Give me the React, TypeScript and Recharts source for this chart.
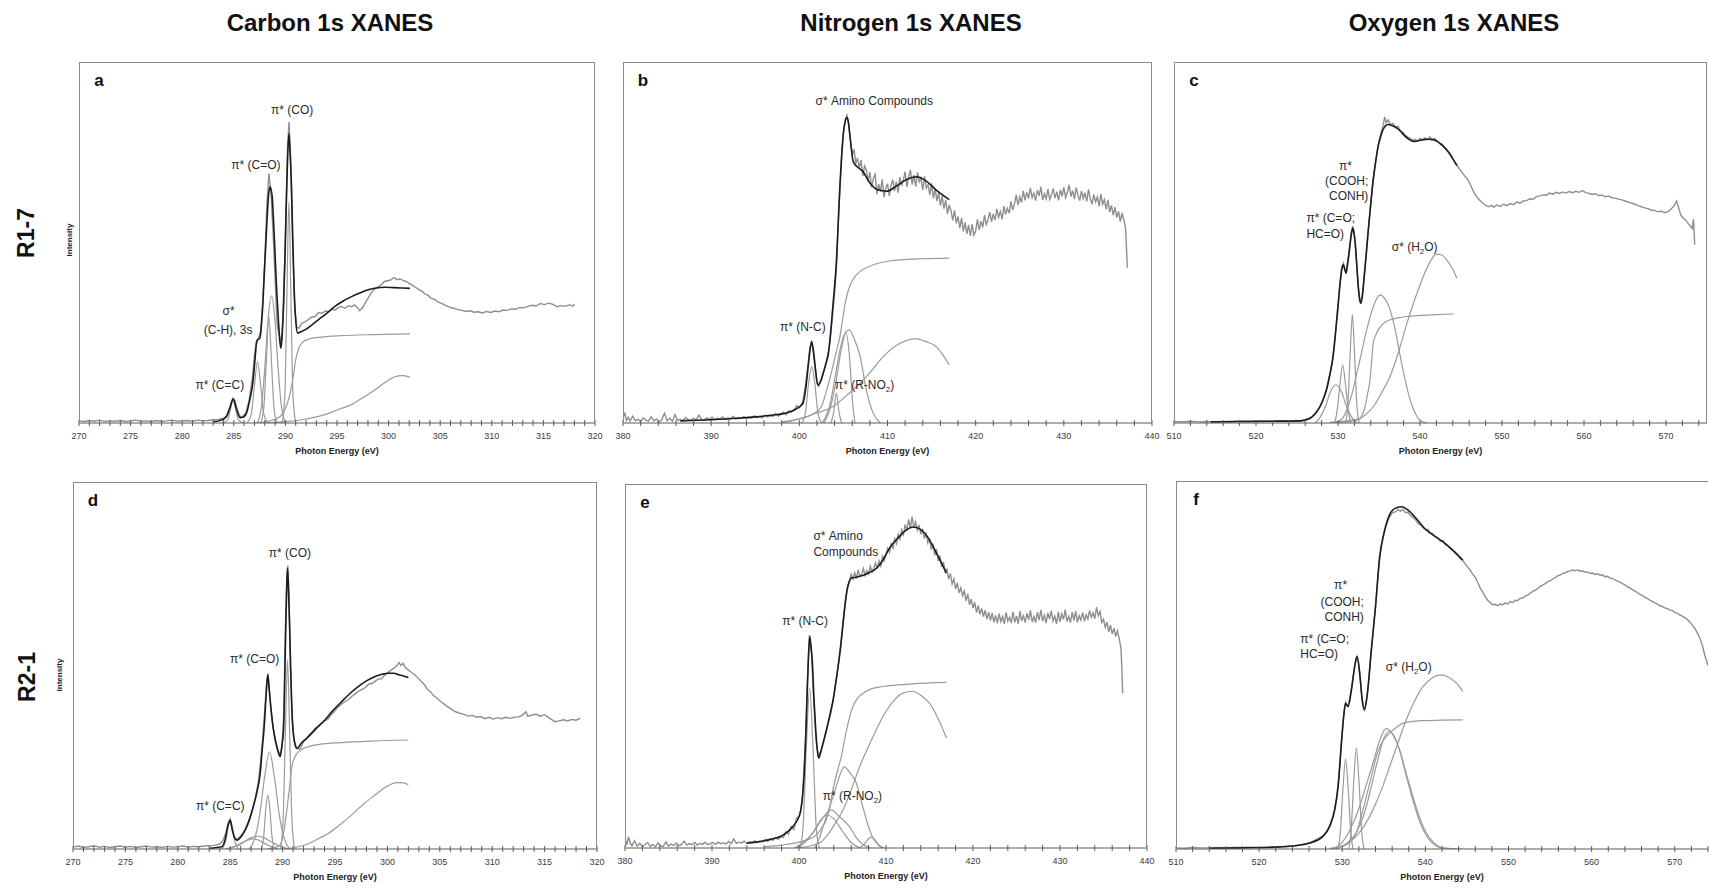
import React from 'react';
import { LineChart, Line, XAxis, YAxis, ReferenceDot } from 'recharts';

type Pt = [number, number];
type Note = { x: number; y: number; text: string; anchor?: 'start' | 'middle' | 'end' };

// ---- tick positions and labels ----
const carbonTicks = [270, 271, 272, 273, 274, 275, 276, 277, 278, 279, 280, 281, 282, 283, 284, 285, 286, 287, 288, 289, 290, 291, 292, 293, 294, 295, 296, 297, 298, 299, 300, 301, 302, 303, 304, 305, 306, 307, 308, 309, 310, 311, 312, 313, 314, 315, 316, 317, 318, 319, 320];
const carbonLabels = [270, 275, 280, 285, 290, 295, 300, 305, 310, 315, 320];
const nitrogenTicks = [380, 382, 384, 386, 388, 390, 392, 394, 396, 398, 400, 402, 404, 406, 408, 410, 412, 414, 416, 418, 420, 422, 424, 426, 428, 430, 432, 434, 436, 438, 440];
const nitrogenLabels = [380, 390, 400, 410, 420, 430, 440];
const oxygenTicks = [510, 512, 514, 516, 518, 520, 522, 524, 526, 528, 530, 532, 534, 536, 538, 540, 542, 544, 546, 548, 550, 552, 554, 556, 558, 560, 562, 564, 566, 568, 570, 572, 574];
const oxygenLabels = [510, 520, 530, 540, 550, 560, 570];

// ---- a: Carbon, R1-7 ----
const aExp: Pt[] = [[270,0.6],[270.5,0.4],[271,0.7],[271.5,0.5],[272,0.8],[272.5,0.4],[273,0.6],[273.5,0.5],[274,0.7],[274.5,0.4],[275,0.6],[275.5,0.8],[276,0.5],[276.5,0.6],[277,0.4],[277.5,0.7],[278,0.5],[278.5,0.6],[279,0.8],[279.5,0.5],[280,0.6],[280.5,0.7],[281,0.5],[281.5,0.8],[282,0.6],[282.5,0.7],[283,0.9],[283.5,1.0],[284,1.3],[284.3,2.0],[284.6,4.2],[284.9,6.9],[285.1,6.2],[285.3,3.9],[285.6,1.8],[285.9,1.9],[286.2,3.0],[286.5,6.5],[286.8,12.5],[287.0,18.5],[287.2,22.8],[287.4,23.4],[287.6,25.5],[287.8,33],[288.0,45],[288.2,60],[288.4,69.1],[288.6,64],[288.8,53],[289.0,40],[289.2,27],[289.4,24.6],[289.6,22.0],[289.8,30],[290.0,52],[290.2,76],[290.35,83.4],[290.5,74],[290.7,50],[290.9,32],[291.1,26.5],[291.3,26.2],[291.6,27.7],[291.9,28.0],[292.2,28.6],[292.5,29.3],[292.9,29.5],[293.2,30.6],[293.5,30.4],[293.9,31.0],[294.2,30.8],[294.5,31.5],[294.8,31.3],[295.1,31.9],[295.4,32.3],[295.8,31.8],[296.1,32.5],[296.4,32.2],[296.7,32.7],[297.0,31.9],[297.2,31.1],[297.5,32.0],[297.8,33.6],[298.1,35.0],[298.4,36.4],[298.7,37.2],[299.0,37.8],[299.3,38.3],[299.6,39.2],[299.9,39.4],[300.2,39.6],[300.5,40.3],[300.8,39.7],[301.1,39.9],[301.4,39.5],[301.7,39.2],[302.0,38.7],[302.3,38.2],[302.6,37.6],[302.9,37.0],[303.2,36.6],[303.5,35.8],[303.8,35.4],[304.1,34.6],[304.5,34.2],[304.8,33.5],[305.1,33.2],[305.5,32.6],[305.9,32.1],[306.3,31.8],[306.7,31.4],[307.1,31.2],[307.5,30.9],[307.9,31.1],[308.3,30.7],[308.7,30.8],[309.1,30.5],[309.5,30.9],[309.9,30.6],[310.3,31.0],[310.7,30.8],[311.1,31.3],[311.5,31.2],[311.9,31.6],[312.3,31.5],[312.7,32.0],[313.1,31.9],[313.5,32.3],[313.9,32.6],[314.3,32.4],[314.7,33.1],[315.1,32.8],[315.5,33.2],[315.9,32.9],[316.3,32.2],[316.7,32.5],[317.1,32.3],[317.5,32.7],[317.9,32.4],[318.0,33.0]];
const aFit: Pt[] = [[283,0.3],[283.8,0.8],[284.3,1.8],[284.6,4.0],[284.94,6.6],[285.25,4.0],[285.6,1.5],[285.9,1.6],[286.23,2.8],[286.55,6.5],[286.88,12],[287.05,17.5],[287.2,22.1],[287.35,23.2],[287.53,23.5],[287.7,28],[287.85,35],[288.0,44],[288.17,53.5],[288.35,62.5],[288.5,65.4],[288.62,64.5],[288.72,62.7],[288.85,56],[288.98,48],[289.15,37],[289.3,29.5],[289.45,23],[289.56,20.7],[289.68,24],[289.82,33.2],[289.95,45],[290.08,59.9],[290.2,72],[290.34,80.2],[290.47,74],[290.6,64.5],[290.72,50],[290.85,36.9],[291.0,28.5],[291.18,24.9],[291.5,25.3],[291.89,25.8],[292.5,27.0],[293.18,28.6],[294.0,30.4],[294.8,32.3],[295.6,33.8],[296.41,35],[297.2,36.0],[298.03,36.9],[298.8,37.4],[299.64,37.6],[300.5,37.5],[301.3,37.4],[302.07,37.3]];
const aCC: Pt[] = [[283.8,0],[284.4,0.8],[284.65,3.5],[284.94,6.3],[285.2,3.5],[285.45,0.8],[286,0]];
const aCH: Pt[] = [[286.3,0],[286.7,2.5],[287.0,10.5],[287.3,17],[287.6,10.5],[287.9,2.5],[288.3,0]];
const aCO1: Pt[] = [[287.6,0],[287.9,4],[288.15,17],[288.4,29.5],[288.65,17],[288.9,4],[289.2,0]];
const aCO2: Pt[] = [[287.3,0],[287.7,5],[288.0,15],[288.3,28],[288.66,35.2],[289.0,28],[289.3,15],[289.6,5],[290.0,0]];
const aCO3: Pt[] = [[289.7,0],[289.95,8],[290.15,36],[290.34,61.3],[290.53,36],[290.73,8],[291.0,0]];
const aStep: Pt[] = [[287,0],[288.5,0.6],[289.5,1.8],[289.95,3.7],[290.4,7.5],[290.76,12.9],[291.0,17.5],[291.24,20.3],[291.6,22.2],[292.2,23.2],[293.5,23.8],[295.4,24.2],[298.5,24.5],[302.07,24.7]];
const aSig: Pt[] = [[288,0],[290,0.4],[291.6,0.9],[293.8,2.3],[295.2,3.8],[296.4,5.1],[297.6,7.2],[298.7,9.2],[299.8,11.5],[300.6,12.8],[301.3,13.1],[302.07,12.7]];
const aNotes: Note[] = [
  { x: 290.66, y: 86.6, text: 'π* (CO)' },
  { x: 287.14, y: 71.4, text: 'π* (C=O)' },
  { x: 284.5, y: 30.9, text: 'σ*' },
  { x: 284.45, y: 25.8, text: '(C-H), 3s' },
  { x: 283.65, y: 10.6, text: 'π* (C=C)' },
];

// ---- b: Nitrogen, R1-7 ----
const bExp: Pt[] = [[380,1.2],[380.2,2.9],[380.4,0.7],[380.6,1.6],[380.8,0.5],[381.1,1.9],[381.4,0.6],[381.7,1.0],[382.0,0.4],[382.3,1.4],[382.6,0.8],[382.9,0.5],[383.2,1.7],[383.5,0.6],[383.8,1.1],[384.1,0.3],[384.4,0.9],[384.7,2.7],[385.0,0.6],[385.3,1.3],[385.6,0.5],[385.9,2.3],[386.2,0.7],[386.5,1.0],[386.8,0.6],[387.1,1.5],[387.4,0.9],[387.7,0.7],[388.0,1.3],[388.3,0.8],[388.6,2.2],[388.9,1.0],[389.2,0.8],[389.5,1.4],[389.8,1.0],[390.1,1.6],[390.4,0.9],[390.7,1.3],[391.0,1.1],[391.3,1.7],[391.6,1.0],[391.9,1.4],[392.2,1.2],[392.5,1.9],[392.8,1.1],[393.1,1.5],[393.4,1.3],[393.7,1.8],[394.0,1.2],[394.3,1.6],[394.6,1.4],[394.9,2.0],[395.2,1.5],[395.5,1.8],[395.8,1.4],[396.1,2.2],[396.4,1.7],[396.7,2.0],[397.0,1.8],[397.3,2.6],[397.6,1.9],[397.9,2.4],[398.2,3.0],[398.5,2.3],[398.8,3.4],[399.1,3.0],[399.4,3.6],[399.7,4.8],[400.0,4.2],[400.2,5.0],[400.4,6.0],[400.7,10.5],[401.0,16.5],[401.2,21],[401.4,22.8],[401.6,19.5],[401.8,14.8],[402.0,11.2],[402.2,10.2],[402.5,12.0],[402.8,14.6],[403.1,17.5],[403.4,21],[403.7,28],[404.0,36],[404.2,43],[404.4,54],[404.6,65],[404.8,74],[405.0,80.5],[405.2,84],[405.4,85.2],[405.6,83],[405.8,78.5],[406.0,74.2],[406.2,75.8],[406.4,71.9],[406.6,73.4],[406.8,70.6],[407.0,72.8],[407.2,68.4],[407.4,71.2],[407.6,70.1],[407.8,66.9],[408.0,69.5],[408.2,65.3],[408.4,67.8],[408.6,68.9],[408.8,63.4],[409.0,66.2],[409.2,64.1],[409.4,67.5],[409.6,62.6],[409.8,65.0],[410.0,66.3],[410.2,62.9],[410.4,65.8],[410.6,67.4],[410.8,64.2],[411.0,66.9],[411.2,63.8],[411.4,68.1],[411.6,65.7],[411.8,67.3],[412.0,69.6],[412.2,65.4],[412.4,68.2],[412.6,70.1],[412.8,66.0],[413.0,68.7],[413.2,65.5],[413.4,69.4],[413.6,66.8],[413.8,67.9],[414.0,64.6],[414.2,68.3],[414.4,65.1],[414.6,66.0],[414.8,63.2],[415.0,66.4],[415.2,62.3],[415.4,64.9],[415.6,61.5],[415.8,63.8],[416.0,60.2],[416.2,62.9],[416.4,59.4],[416.6,61.8],[416.8,57.9],[417.0,60.4],[417.2,58.8],[417.4,56.1],[417.6,58.9],[417.8,55.3],[418.0,57.2],[418.2,54.0],[418.4,56.8],[418.6,53.1],[418.8,55.6],[419.0,52.4],[419.2,54.9],[419.4,51.8],[419.6,55.1],[419.8,52.0],[420.0,53.2],[420.2,56.4],[420.4,53.5],[420.6,55.9],[420.8,54.2],[421.0,57.6],[421.2,55.0],[421.4,56.3],[421.6,58.4],[421.8,55.7],[422.0,57.9],[422.2,56.2],[422.4,59.3],[422.6,57.0],[422.8,58.6],[423.0,56.4],[423.2,60.1],[423.4,57.8],[423.6,59.5],[423.8,58.1],[424.0,61.4],[424.2,59.0],[424.4,60.7],[424.6,63.2],[424.8,60.4],[425.0,62.6],[425.2,61.1],[425.4,64.3],[425.6,61.7],[425.8,63.9],[426.0,62.2],[426.2,65.1],[426.4,62.4],[426.6,63.7],[426.8,61.6],[427.0,64.5],[427.2,62.9],[427.4,65.4],[427.6,61.8],[427.8,63.5],[428.0,62.1],[428.2,64.8],[428.4,61.9],[428.6,63.2],[428.8,65.0],[429.0,62.3],[429.2,64.1],[429.4,61.7],[429.6,64.6],[429.8,62.8],[430.0,65.3],[430.2,62.5],[430.4,63.9],[430.6,66.0],[430.8,62.7],[431.0,64.4],[431.2,62.0],[431.4,65.2],[431.6,63.1],[431.8,61.6],[432.0,64.3],[432.2,62.2],[432.4,63.8],[432.6,61.4],[432.8,64.7],[433.0,62.0],[433.2,60.8],[433.4,63.3],[433.6,61.2],[433.8,62.6],[434.0,60.1],[434.2,63.4],[434.4,60.6],[434.6,61.9],[434.8,59.2],[435.0,61.8],[435.2,58.4],[435.4,60.3],[435.6,57.6],[435.8,59.8],[436.0,56.9],[436.2,58.7],[436.4,55.8],[436.6,58.2],[436.8,56.3],[437.0,54.0],[437.1,49],[437.2,43]];
const bFit: Pt[] = [[386.5,0.6],[390,0.9],[393,1.3],[395,1.7],[397,2.2],[398.2,2.6],[399.7,4.0],[400.4,5.4],[400.75,10],[401.0,15.6],[401.2,20],[401.4,22.5],[401.6,20],[401.8,15.6],[402.1,10.5],[402.4,11.5],[402.7,13.7],[403.0,16.3],[403.3,19.3],[403.55,25],[403.8,32.2],[404.0,38],[404.2,44.3],[404.4,55],[404.6,65.6],[404.8,74],[405.0,80.4],[405.2,83.5],[405.4,84.6],[405.55,83.5],[405.7,80.4],[405.9,76],[406.1,72.5],[406.5,71.1],[407.2,69.7],[408.0,66.5],[408.9,64.6],[409.9,64.2],[411.0,65.6],[412.1,67.4],[413.3,68.2],[414.4,67.0],[415.5,64.6],[417.0,61.9]];
const bNC: Pt[] = [[400.3,0],[400.7,3],[401.05,11],[401.4,15.6],[401.75,11],[402.1,3],[402.5,0]];
const bStep: Pt[] = [[398,0.3],[400.1,1.2],[401.5,2.4],[402.5,4.5],[403.1,9.1],[403.8,15.6],[404.2,19.8],[404.6,23.9],[404.9,28.5],[405.2,33.2],[405.7,37.8],[406.2,40.2],[406.9,42],[407.8,43.2],[408.75,44.1],[410,44.8],[411.4,45.2],[414,45.5],[417,45.7]];
const bSig1: Pt[] = [[402.6,0],[403.5,5.4],[404.0,11.9],[404.6,20.2],[405.2,25],[405.65,25.8],[406.2,23.5],[406.9,18.4],[407.6,9.1],[408.4,2.6],[409.2,0]];
const bNO2: Pt[] = [[403.6,0],[403.9,3],[404.2,8.3],[404.5,3],[404.8,0]];
const bSig2: Pt[] = [[402.8,0],[403.5,4],[404.2,12],[404.8,21],[405.3,25],[405.7,18],[406.0,7],[406.3,0]];
const bSig3: Pt[] = [[398,0],[400.1,1.2],[402,2.8],[403.8,4.5],[405.3,7.5],[406.9,11],[408.2,14.5],[409.5,18.4],[411,21.5],[412.2,22.9],[413.1,23.4],[414.3,22.6],[415.55,21.1],[416.3,18.8],[417,16.1]];
const bNotes: Note[] = [
  { x: 408.5, y: 89.2, text: 'σ* Amino Compounds' },
  { x: 400.4, y: 26.5, text: 'π* (N-C)' },
  { x: 407.4, y: 10.5, text: 'π* (R-NO₂)' },
];

// ---- c: Oxygen, R1-7 ----
const cExp: Pt[] = [[510,0.4],[511,0.3],[512,0.5],[513,0.3],[514,0.4],[515,0.3],[516,0.4],[517,0.4],[518,0.5],[519,0.4],[520,0.5],[521,0.5],[522,0.5],[523,0.6],[524,0.5],[525,0.7],[525.4,0.5],[526,0.9],[526.6,1.4],[527.2,2.6],[527.8,4.6],[528.2,6.6],[528.6,9.4],[529.0,13.5],[529.4,18.6],[529.7,25],[530.0,32.5],[530.25,39],[530.45,42.8],[530.65,44.3],[530.85,42.5],[530.98,41.8],[531.2,45],[531.4,48.5],[531.6,52.5],[531.8,54.5],[531.95,53],[532.1,50],[532.3,43],[532.5,37.5],[532.65,34.5],[532.8,33.5],[533.0,36],[533.2,40.8],[533.45,47],[533.7,53.8],[534.0,61],[534.3,67.8],[534.6,72.5],[534.9,77],[535.2,80],[535.5,82.5],[535.7,84.8],[535.85,83.2],[536.1,84],[536.4,82.6],[536.7,83],[537.0,81.8],[537.3,82.2],[537.6,81],[537.9,80.5],[538.2,79.8],[538.5,79.2],[538.8,78.9],[539.1,78.3],[539.4,78.6],[539.7,78.1],[540.0,78.9],[540.3,78.4],[540.6,79],[540.9,78.6],[541.2,79.2],[541.5,78.5],[541.8,78.8],[542.1,78.1],[542.4,77.6],[542.7,77.3],[543.0,76.4],[543.3,75.6],[543.6,74.8],[543.9,73.6],[544.2,72.5],[544.5,71.5],[544.8,70.4],[545.1,69.5],[545.4,68.6],[545.7,67.8],[546.0,66.7],[546.3,65.2],[546.6,63.8],[546.9,62.7],[547.2,61.9],[547.5,61.2],[547.8,60.6],[548.1,60.2],[548.4,59.9],[548.7,60.3],[549.0,59.8],[549.4,60.4],[549.8,60.0],[550.2,60.6],[550.6,60.2],[551.0,60.8],[551.4,60.5],[551.8,61.2],[552.2,60.9],[552.6,61.5],[553.0,61.6],[553.4,62.1],[553.8,62.0],[554.2,62.7],[554.6,62.9],[555.0,63.2],[555.4,63.1],[555.8,63.7],[556.2,63.4],[556.6,63.9],[557.0,63.6],[557.4,64.0],[557.8,63.7],[558.2,64.1],[558.6,63.8],[559.0,64.2],[559.4,63.9],[559.8,64.4],[560.2,63.8],[560.6,63.6],[561.0,63.3],[561.4,63.5],[561.8,63.0],[562.2,63.1],[562.6,62.7],[563.0,62.9],[563.4,62.4],[563.8,62.3],[564.2,62.0],[564.6,61.8],[565.0,61.5],[565.4,61.2],[565.8,60.9],[566.2,60.6],[566.6,60.2],[567.0,59.9],[567.4,59.6],[567.8,59.4],[568.2,59.0],[568.6,58.9],[569.0,58.5],[569.4,58.7],[569.8,58.3],[570.2,58.5],[570.6,59.2],[571.0,60.2],[571.3,61.5],[571.5,60.0],[571.8,57.6],[572.1,56.8],[572.4,56.2],[572.7,55.3],[573.0,54.5],[573.2,53.9],[573.35,56.5],[573.45,52],[573.5,49.4]];
const cFit: Pt[] = [[514.5,0.3],[518,0.4],[522,0.5],[525.4,0.6],[526.6,1.3],[527.2,2.5],[527.8,4.5],[528.2,6.6],[528.6,9.2],[529.0,13.3],[529.4,18.4],[529.7,25],[530.0,32.3],[530.25,38.5],[530.45,42.4],[530.65,43.8],[530.82,42.6],[530.98,41.5],[531.2,44.5],[531.4,48],[531.6,51.8],[531.8,54],[531.95,52.5],[532.1,49.8],[532.3,43.5],[532.5,36.9],[532.65,34],[532.8,33.2],[533.0,35.8],[533.2,40.6],[533.45,47],[533.7,53.5],[534.0,60.8],[534.3,67.4],[534.6,72.5],[534.9,76.7],[535.2,79.3],[535.5,81.3],[535.8,82.4],[536.1,82.7],[536.6,82.4],[537.2,81.7],[537.7,80.6],[538.2,79.4],[538.7,78.5],[539.2,78.0],[539.8,78.2],[540.4,78.5],[541.0,78.6],[541.6,78.5],[542.1,78.0],[542.6,77.1],[543.2,75.8],[543.7,74.3],[544.1,72.8],[544.5,71.3]];
const cPi1: Pt[] = [[527.2,0],[527.8,1.5],[528.5,4.8],[529.1,8.8],[529.76,10.6],[530.4,8.8],[531.0,4.8],[531.7,1.5],[532.3,0]];
const cPi2: Pt[] = [[529.6,0],[529.9,3.5],[530.25,11],[530.57,16.1],[530.9,11],[531.25,3.5],[531.55,0]];
const cPi3: Pt[] = [[530.9,0],[531.2,5],[531.5,20],[531.75,30],[532.0,20],[532.3,5],[532.6,0]];
const cSig1: Pt[] = [[529.5,0],[530.5,1.2],[531.06,3.6],[531.7,8],[532.3,13.8],[532.9,19.8],[533.5,25.8],[534.3,32.2],[535.1,35.5],[535.7,34.5],[536.35,31.4],[537.0,25.5],[537.6,18.4],[538.2,11.8],[538.8,6.4],[539.4,2.8],[540,0.8],[540.8,0]];
const cStep: Pt[] = [[529,0.2],[531,0.6],[532.2,1.0],[532.7,1.3],[533.0,2.5],[533.3,4.5],[533.6,8],[533.9,11.9],[534.1,17],[534.3,22.1],[534.6,24.3],[534.9,25.8],[535.5,27.5],[536.35,28.6],[537.3,29.1],[538.4,29.5],[540,29.8],[542,30.0],[544.1,30.2]];
const cSig2: Pt[] = [[529,0],[531,0.3],[532.3,0.8],[533.3,2.2],[534.3,4.5],[535.3,8.3],[536.35,12.9],[537.4,19.8],[538.4,27.6],[539.4,34.5],[540.4,40.6],[541.2,44.5],[542,46.8],[542.6,46.6],[543.25,45.2],[543.9,43],[544.5,40.1]];
const cNotes: Note[] = [
  { x: 530.9, y: 71.1, text: 'π*' },
  { x: 533.7, y: 66.9, text: '(COOH;', anchor: 'end' },
  { x: 533.7, y: 62.8, text: 'CONH)', anchor: 'end' },
  { x: 526.15, y: 56.8, text: 'π* (C=O;', anchor: 'start' },
  { x: 526.15, y: 52.4, text: 'HC=O)', anchor: 'start' },
  { x: 539.35, y: 48.7, text: 'σ* (H₂O)' },
];

// ---- d: Carbon, R2-1 ----
const dExp: Pt[] = [[270,0.5],[270.5,0.8],[271,0.4],[271.5,0.6],[272,0.9],[272.5,0.5],[273,0.7],[273.5,0.4],[274,0.6],[274.5,0.8],[275,0.5],[275.5,0.7],[276,0.4],[276.5,0.6],[277,0.8],[277.5,0.5],[278,0.6],[278.5,0.4],[279,0.7],[279.5,0.5],[280,0.6],[280.5,0.8],[281,0.5],[281.5,0.7],[282,0.6],[282.5,0.8],[283,0.9],[283.5,1.0],[284,1.4],[284.3,2.2],[284.6,4.5],[284.8,7.0],[285.0,8.2],[285.2,5.5],[285.4,3.2],[285.65,2.6],[285.9,3.3],[286.2,4.2],[286.5,5.5],[286.8,7.5],[287.1,10.5],[287.4,14],[287.7,18.5],[287.9,24],[288.1,30],[288.3,38],[288.5,46],[288.6,47.8],[288.75,43],[288.9,38],[289.1,33],[289.3,29.8],[289.5,27.5],[289.75,25.5],[289.95,28],[290.1,36],[290.25,58],[290.4,74],[290.5,77.2],[290.62,68],[290.75,50],[290.9,36],[291.1,29.5],[291.35,27.6],[291.6,27.2],[291.8,27.9],[292.0,29.5],[292.2,29.8],[292.5,31.0],[292.8,31.8],[293.1,32.9],[293.4,33.5],[293.7,34.3],[294.0,34.9],[294.3,35.3],[294.6,36.5],[294.9,37.3],[295.2,38.4],[295.5,39.2],[295.8,39.9],[296.1,40.4],[296.4,41.0],[296.7,41.8],[297.0,42.4],[297.3,43.1],[297.6,43.5],[297.9,44.0],[298.2,44.9],[298.5,45.1],[298.8,45.6],[299.1,46.3],[299.4,46.4],[299.7,47.2],[300.0,48.0],[300.3,48.6],[300.6,49.2],[300.9,49.9],[301.1,50.8],[301.3,50.0],[301.5,50.6],[301.7,49.5],[302.0,48.8],[302.3,48.1],[302.6,47.5],[302.9,46.7],[303.2,45.7],[303.5,44.9],[303.8,43.6],[304.1,42.9],[304.4,41.8],[304.7,41.2],[305.0,40.4],[305.3,39.8],[305.6,39.0],[305.9,38.5],[306.2,37.9],[306.5,37.4],[306.9,37.0],[307.3,36.7],[307.7,36.2],[308.1,36.4],[308.5,35.9],[308.9,36.1],[309.3,35.5],[309.7,35.9],[310.1,35.4],[310.5,35.8],[310.9,35.5],[311.3,35.9],[311.7,35.6],[312.1,35.9],[312.5,36.0],[312.9,36.5],[313.2,37.4],[313.4,36.2],[313.8,36.5],[314.2,36.7],[314.6,36.2],[315.0,36.6],[315.3,36.0],[315.6,35.4],[316.0,34.7],[316.4,34.9],[316.8,35.2],[317.2,34.9],[317.6,35.3],[318.0,35.1],[318.4,35.6]];
const dFit: Pt[] = [[283,0.2],[284.2,0.6],[284.5,2.4],[284.8,6.5],[285.0,7.9],[285.2,5.2],[285.4,3.2],[285.64,2.4],[286.0,3.2],[286.43,5.2],[286.8,7.8],[287.2,11.5],[287.55,15.5],[287.86,20.6],[288.05,27],[288.27,34.3],[288.45,43],[288.59,47.5],[288.72,43.5],[288.9,37.9],[289.1,33],[289.3,29.7],[289.55,26.8],[289.77,25.2],[289.95,28.5],[290.09,32.4],[290.2,45],[290.31,61.5],[290.4,72],[290.47,76.5],[290.55,72],[290.66,61.5],[290.8,46],[290.95,34.3],[291.15,29],[291.36,27.4],[291.8,28.9],[292.47,30.6],[293.2,32.8],[294.06,35.2],[294.8,37.7],[295.65,40.2],[296.4,42.3],[297.24,44.3],[298.0,45.8],[298.83,47.0],[299.5,47.6],[300.1,47.9],[300.6,47.9],[301.05,47.5],[301.6,47.1],[302.0,46.7]];
const dCC: Pt[] = [[284.2,0],[284.55,2],[284.8,6],[285.0,7.5],[285.2,6],[285.45,2],[285.8,0]];
const dLow1: Pt[] = [[284.5,0],[285.5,0.8],[286.3,2.0],[287.0,3.1],[287.6,3.5],[288.2,3.1],[288.9,2.0],[289.7,0.8],[290.7,0]];
const dLow2: Pt[] = [[284.8,0],[285.8,1.0],[286.6,2.3],[287.2,2.8],[287.8,2.3],[288.6,1.0],[289.6,0]];
const dCO1: Pt[] = [[286.8,0],[287.3,2.5],[287.8,9],[288.3,20],[288.75,26.5],[289.2,20],[289.7,9],[290.2,2.5],[290.7,0]];
const dCO2: Pt[] = [[288.0,0],[288.2,3.5],[288.4,11],[288.59,14.7],[288.78,11],[288.98,3.5],[289.2,0]];
const dCO3: Pt[] = [[289.8,0],[290.05,8],[290.27,32],[290.47,51.5],[290.67,32],[290.89,8],[291.15,0]];
const dStep: Pt[] = [[288.5,0],[289.4,0.5],[289.77,1.1],[290.09,4.3],[290.4,10.6],[290.65,16.5],[290.88,22.4],[291.1,24.6],[291.36,26],[291.8,27.1],[292.47,27.9],[293.5,28.5],[295.65,29],[298.5,29.4],[302,29.7]];
const dSig: Pt[] = [[290,0],[291.2,0.4],[292.5,1.5],[293.4,2.8],[294.4,4.3],[295.5,6.7],[296.6,9.3],[297.7,12.2],[298.83,14.7],[299.8,16.8],[300.9,18.1],[301.5,18.0],[302,17.5]];
const dNotes: Note[] = [
  { x: 290.69, y: 80.6, text: 'π* (CO)' },
  { x: 287.34, y: 51.8, text: 'π* (C=O)' },
  { x: 284.05, y: 11.6, text: 'π* (C=C)' },
];

// ---- e: Nitrogen, R2-1 ----
const eExp: Pt[] = [[380,2.6],[380.2,0.8],[380.4,3.1],[380.6,1.4],[380.8,0.6],[381.1,2.0],[381.4,0.5],[381.7,1.3],[382.0,0.4],[382.3,0.9],[382.6,1.5],[382.9,0.4],[383.2,1.0],[383.5,0.3],[383.8,1.4],[384.1,0.6],[384.4,0.4],[384.7,1.7],[385.0,0.5],[385.3,1.1],[385.6,0.7],[385.9,1.4],[386.2,0.6],[386.5,1.0],[386.8,1.9],[387.1,0.8],[387.4,1.2],[387.7,0.9],[388.0,1.5],[388.3,0.8],[388.6,1.3],[388.9,1.0],[389.2,1.6],[389.5,0.9],[389.8,1.2],[390.1,1.5],[390.4,1.0],[390.7,1.6],[391.0,1.2],[391.3,1.4],[391.6,1.1],[391.9,1.8],[392.2,1.2],[392.5,2.5],[392.8,1.3],[393.1,1.6],[393.4,1.4],[393.7,1.9],[394.0,1.3],[394.3,1.7],[394.6,1.5],[394.9,2.0],[395.2,1.6],[395.5,1.9],[395.8,1.7],[396.1,2.3],[396.4,1.8],[396.7,2.5],[397.0,2.1],[397.3,2.9],[397.6,2.4],[397.9,3.1],[398.2,2.9],[398.5,4.4],[398.8,3.8],[399.1,5.9],[399.4,5.1],[399.7,8.2],[400.0,8.7],[400.2,10.4],[400.4,14],[400.7,27],[400.95,45],[401.2,58.5],[401.45,53],[401.7,40],[401.95,30],[402.2,25.5],[402.5,26.5],[402.8,29],[403.1,31.5],[403.4,34.8],[403.7,37.5],[404.0,41.5],[404.3,46.5],[404.6,52],[404.9,58.5],[405.2,65],[405.5,70.5],[405.8,73.6],[406.0,75.2],[406.2,73.9],[406.4,75.6],[406.6,74.0],[406.8,76.4],[407.0,74.6],[407.2,75.1],[407.4,76.8],[407.6,74.9],[407.8,76.2],[408.0,75.3],[408.2,77.4],[408.4,75.8],[408.6,76.9],[408.8,78.3],[409.0,76.7],[409.2,78.9],[409.4,77.5],[409.6,80.1],[409.8,79.0],[410.0,80.6],[410.2,82.3],[410.4,81.2],[410.6,83.5],[410.8,82.4],[411.0,84.9],[411.2,83.6],[411.4,86.2],[411.6,84.8],[411.8,87.4],[412.0,86.1],[412.2,88.9],[412.4,87.2],[412.6,90.3],[412.8,87.9],[413.0,91.0],[413.2,88.1],[413.4,89.6],[413.6,87.3],[413.8,88.8],[414.0,86.2],[414.2,87.7],[414.4,85.0],[414.6,86.4],[414.8,83.8],[415.0,85.1],[415.2,82.0],[415.4,83.6],[415.6,80.4],[415.8,82.1],[416.0,78.9],[416.2,80.3],[416.4,77.2],[416.6,78.6],[416.8,75.9],[417.0,76.6],[417.2,73.8],[417.4,75.4],[417.6,72.6],[417.8,73.9],[418.0,71.2],[418.2,72.8],[418.4,70.1],[418.6,71.5],[418.8,69.3],[419.0,70.6],[419.2,67.9],[419.4,69.8],[419.6,66.8],[419.8,68.4],[420.0,65.9],[420.2,67.5],[420.4,64.7],[420.6,66.6],[420.8,64.2],[421.0,65.8],[421.2,63.6],[421.4,65.3],[421.6,62.9],[421.8,64.8],[422.0,62.5],[422.2,64.6],[422.4,62.0],[422.6,63.9],[422.8,61.7],[423.0,64.4],[423.2,62.2],[423.4,63.6],[423.6,61.5],[423.8,64.7],[424.0,62.3],[424.2,63.4],[424.4,61.8],[424.6,64.9],[424.8,62.0],[425.0,63.7],[425.2,61.6],[425.4,65.1],[425.6,62.4],[425.8,63.8],[426.0,61.9],[426.2,64.5],[426.4,62.7],[426.6,65.3],[426.8,62.1],[427.0,63.6],[427.2,61.9],[427.4,64.8],[427.6,62.6],[427.8,65.4],[428.0,62.3],[428.2,63.9],[428.4,61.8],[428.6,64.6],[428.8,62.9],[429.0,65.2],[429.2,62.4],[429.4,63.7],[429.6,61.6],[429.8,64.9],[430.0,62.1],[430.2,64.3],[430.4,62.8],[430.6,65.5],[430.8,62.2],[431.0,63.6],[431.2,61.9],[431.4,64.8],[431.6,62.5],[431.8,65.1],[432.0,62.0],[432.2,63.8],[432.4,62.6],[432.6,64.7],[432.8,62.3],[433.0,64.1],[433.2,62.9],[433.4,65.3],[433.6,63.4],[433.8,64.6],[434.0,63.0],[434.2,66.2],[434.4,63.8],[434.6,65.0],[434.8,61.9],[435.0,62.8],[435.2,60.6],[435.4,62.1],[435.6,59.4],[435.8,61.3],[436.0,58.8],[436.2,60.4],[436.4,58.1],[436.6,59.7],[436.8,57.6],[437.0,55.0],[437.1,50],[437.2,42.5]];
const eFit: Pt[] = [[394,1.3],[396.6,2.3],[398.2,3.6],[399.3,5.9],[400.08,9.1],[400.4,14],[400.6,20.6],[400.8,32],[400.93,41.7],[401.08,52],[401.23,58.1],[401.38,55.5],[401.54,50.8],[401.72,41],[401.92,32.5],[402.1,27],[402.27,24.7],[402.5,26.4],[402.77,28.8],[403.05,31.5],[403.34,34.3],[403.62,37.3],[403.92,40.7],[404.2,45],[404.5,49.9],[404.8,55.5],[405.07,61.8],[405.3,67],[405.53,71],[405.78,73.2],[406.03,74.2],[406.6,74.4],[407.1,74.7],[407.56,75.1],[408.1,75.7],[408.7,76.5],[409.2,77.6],[409.67,79.2],[410.4,82.4],[411.4,85.2],[412.35,87.4],[413.1,88.2],[413.9,87.6],[414.85,85.2],[415.8,81.0],[416.95,75.5]];
const eNC: Pt[] = [[400.1,0],[400.45,5],[400.85,28],[401.23,43.9],[401.6,28],[402.0,5],[402.35,0]];
const eStep: Pt[] = [[396,0.3],[398,0.8],[400,1.6],[401,2.3],[402,3.6],[402.6,5.5],[403.15,7.8],[403.55,11.5],[403.9,16],[404.4,21],[404.87,25.2],[405.3,30.5],[405.83,36.1],[406.2,38.8],[406.6,40.7],[407.3,42.4],[408.1,43.5],[409.2,44.2],[410.4,44.6],[413,45.1],[416.95,45.5]];
const eNO2a: Pt[] = [[401.8,0],[402.3,2.5],[402.77,5.9],[403.35,10],[403.92,14.2],[404.55,19],[405.18,22.3],[405.9,20.5],[406.6,17.8],[407.2,12.5],[407.75,7.8],[408.3,3.8],[408.9,1.4],[409.5,0]];
const eNO2b: Pt[] = [[399.5,0],[400.5,1.6],[401.6,4.1],[402.6,7.8],[403.7,10.5],[404.7,8.5],[405.8,5.9],[406.6,2.8],[407.4,0.9],[408.2,0]];
const eNO2c: Pt[] = [[399.8,0],[400.8,1.8],[401.8,5],[402.6,8],[403.3,9],[404.0,8],[405.0,4.6],[406.0,1.5],[407.0,0]];
const eSmall: Pt[] = [[406.8,0],[407.4,0.8],[407.9,2.3],[408.3,3],[408.7,2.3],[409.2,0.8],[409.8,0]];
const eSig: Pt[] = [[399.5,0],[401.5,0.7],[402.5,1.6],[403.15,3.2],[404.1,6.5],[405.07,10.5],[406,16],[406.98,22.4],[408.3,29.5],[409.67,36.2],[410.9,40.5],[412,42.6],[413.1,43],[414.1,41.8],[415,39.8],[416,35.5],[416.95,30.2]];
const eNotes: Note[] = [
  { x: 401.66, y: 85.6, text: 'σ* Amino', anchor: 'start' },
  { x: 401.66, y: 81.4, text: 'Compounds', anchor: 'start' },
  { x: 400.7, y: 62.3, text: 'π* (N-C)' },
  { x: 406.14, y: 14.2, text: 'π* (R-NO₂)' },
];

// ---- f: Oxygen, R2-1 ----
const fExp: Pt[] = [[510,0.3],[511,0.2],[512,0.4],[513,0.3],[514,0.3],[515,0.4],[516,0.3],[517,0.4],[518,0.4],[519,0.5],[520,0.4],[521,0.5],[522,0.6],[523,0.6],[524,0.8],[525,1.1],[526.08,1.7],[526.9,2.6],[527.7,3.6],[528.1,4.8],[528.5,6.4],[528.8,8.4],[529.1,10.9],[529.3,13.5],[529.5,17.2],[529.7,22.5],[529.9,28.8],[530.05,33],[530.17,36],[530.3,38.8],[530.4,39.8],[530.55,38.9],[530.7,39],[530.9,41],[531.1,43.4],[531.3,46.5],[531.5,49.8],[531.65,51.8],[531.78,52.4],[531.95,50.8],[532.1,47.9],[532.25,43.9],[532.4,40.6],[532.55,38.5],[532.66,37.9],[532.8,39],[532.98,41.5],[533.2,46],[533.5,54.2],[533.75,60],[534.0,65.9],[534.25,72.8],[534.5,79.1],[534.75,82.8],[535.0,85.4],[535.25,87.6],[535.5,89.3],[535.8,90.6],[536.1,91.5],[536.4,91.6],[536.7,92.2],[537.0,91.8],[537.3,92.3],[537.6,91.4],[537.9,91.5],[538.2,90.6],[538.5,90.1],[538.8,89.5],[539.1,88.5],[539.4,88.1],[539.7,87.5],[540.0,86.8],[540.3,86.9],[540.6,85.9],[540.9,85.7],[541.2,84.8],[541.5,84.6],[541.8,83.6],[542.1,83.8],[542.4,82.7],[542.7,82.3],[543.0,81.6],[543.3,81.1],[543.6,80.3],[543.9,79.8],[544.2,78.9],[544.5,78.4],[544.8,77.4],[545.1,76.6],[545.4,75.7],[545.7,74.7],[546.0,73.8],[546.3,72.4],[546.6,70.9],[546.9,69.8],[547.2,68.6],[547.5,67.6],[547.8,67.0],[548.1,66.4],[548.4,66.5],[548.7,66.1],[549.0,66.6],[549.3,66.3],[549.6,66.9],[549.9,66.6],[550.2,67.2],[550.5,67.0],[550.8,67.6],[551.1,67.5],[551.4,68.1],[551.7,68.2],[552.0,68.7],[552.3,69.0],[552.6,69.5],[552.9,70.0],[553.2,70.3],[553.5,70.8],[553.8,71.3],[554.1,71.7],[554.4,72.1],[554.7,72.6],[555.0,72.9],[555.3,73.3],[555.6,73.7],[555.9,74.2],[556.2,74.4],[556.5,74.9],[556.8,75.0],[557.1,75.4],[557.4,75.5],[557.7,75.8],[558.0,75.6],[558.3,75.9],[558.6,75.5],[558.9,75.6],[559.2,75.2],[559.5,75.3],[559.8,74.9],[560.1,75.0],[560.4,74.6],[560.7,74.8],[561.0,74.4],[561.3,74.5],[561.6,74.0],[561.9,74.1],[562.2,73.6],[562.5,73.5],[562.8,73.1],[563.1,72.8],[563.4,72.5],[563.7,72.1],[564.0,71.8],[564.3,71.2],[564.6,71.0],[564.9,70.5],[565.2,70.1],[565.5,69.7],[565.8,69.2],[566.1,68.9],[566.4,68.4],[566.7,68.1],[567.0,67.6],[567.3,67.3],[567.6,66.9],[567.9,66.6],[568.2,66.1],[568.5,65.9],[568.8,65.5],[569.1,65.3],[569.4,64.9],[569.7,64.8],[570.0,64.3],[570.3,64.1],[570.6,63.6],[570.9,63.3],[571.2,62.9],[571.5,62.4],[571.8,61.7],[572.1,60.9],[572.4,60.0],[572.7,58.8],[573.0,57.4],[573.3,55.5],[573.6,52.8],[573.9,50.6],[574.0,49.8]];
const fFit: Pt[] = [[514,0.2],[518,0.3],[522,0.5],[524,0.8],[526.08,1.6],[527.7,3.5],[528.5,6.2],[529.1,10.7],[529.5,17],[529.9,28.8],[530.17,36],[530.4,39.6],[530.7,38.7],[531.1,43.2],[531.5,49.6],[531.78,52.3],[532.1,47.7],[532.4,40.5],[532.66,37.8],[532.98,41.4],[533.5,54.1],[534.0,65.8],[534.5,79.4],[535.0,85.7],[535.5,89.8],[536.3,92.5],[537.12,93.0],[537.92,92.1],[538.9,89.8],[539.9,87.1],[540.93,85.3],[542.1,83.5],[543.3,81.2],[544.5,78.5]];
const fPi1: Pt[] = [[529.5,0],[529.75,4],[530.1,17],[530.4,24.4],[530.7,17],[531.05,4],[531.3,0]];
const fPi2: Pt[] = [[530.8,0],[531.05,4.5],[531.4,19],[531.7,27.4],[532.0,19],[532.35,4.5],[532.6,0]];
const fSig1: Pt[] = [[528.5,0],[529.5,0.8],[530.5,3.4],[531.3,7],[532.1,11.6],[532.9,17.5],[533.7,23.3],[534.5,29.5],[535.3,32.8],[536.1,31],[536.9,27],[537.7,20.5],[538.5,14.3],[539.3,8.5],[540.1,4.4],[541.1,1.5],[542.1,0.3],[544.5,0]];
const fSig2: Pt[] = [[529,0],[530.5,1.5],[531.7,4.5],[532.7,10],[533.5,17],[534.3,24.5],[535.0,30],[535.6,32],[536.3,30.5],[537.0,26],[537.8,19],[538.6,12.5],[539.4,7],[540.3,3],[541.3,0.8],[542.5,0]];
const fStep: Pt[] = [[528.5,0.2],[530.5,1.2],[531.2,2.8],[531.7,4.4],[532.1,7.4],[532.5,10.7],[532.9,14.3],[533.3,17.9],[533.7,21.5],[534.1,25.1],[534.6,28.2],[535.2,30.3],[535.7,31.5],[536.5,33],[537.3,34.2],[538.5,34.7],[539.7,34.9],[542,35.0],[544.5,35.1]];
const fSig3: Pt[] = [[529,0],[531.7,3.5],[532.7,6.5],[533.7,10.7],[534.7,16],[535.7,22.4],[536.7,28.8],[537.7,35.1],[538.7,40.2],[539.7,44.1],[540.8,46.5],[541.9,47.3],[542.7,46.8],[543.3,45.9],[544.0,44.4],[544.5,42.8]];
const fNotes: Note[] = [
  { x: 529.8, y: 71.7, text: 'π*' },
  { x: 532.6, y: 67.2, text: '(COOH;', anchor: 'end' },
  { x: 532.6, y: 63.1, text: 'CONH)', anchor: 'end' },
  { x: 524.96, y: 57.0, text: 'π* (C=O;', anchor: 'start' },
  { x: 524.96, y: 53.0, text: 'HC=O)', anchor: 'start' },
  { x: 538.0, y: 49.4, text: 'σ* (H₂O)' },
];

// ---- layout ----
const FONT = '"Liberation Sans", Arial, Helvetica, sans-serif';
const EXP_COLOR = '#8e8e8e';
const COMP_COLOR = '#9b9b9b';
const FIT_COLOR = '#1c1c1c';
const ML = 15;
const MR = 15;
const MT = 5;
const XH = 36;

type PanelDef = {
  letter: string;
  left: number;
  right: number;
  top: number;
  axis: number;
  domain: [number, number];
  ticks: number[];
  labels: number[];
  exp: Pt[];
  fit: Pt[];
  comps: Pt[][];
  notes: Note[];
  rightBorder: boolean;
};

const panels: PanelDef[] = [
  { letter: 'a', left: 79, right: 595, top: 62, axis: 423, domain: [270, 320], ticks: carbonTicks, labels: carbonLabels, exp: aExp, fit: aFit, comps: [aCC, aCH, aCO1, aCO2, aCO3, aStep, aSig], notes: aNotes, rightBorder: true },
  { letter: 'b', left: 623, right: 1152, top: 62, axis: 423, domain: [380, 440], ticks: nitrogenTicks, labels: nitrogenLabels, exp: bExp, fit: bFit, comps: [bNC, bStep, bSig1, bNO2, bSig2, bSig3], notes: bNotes, rightBorder: true },
  { letter: 'c', left: 1174, right: 1707, top: 62, axis: 423, domain: [510, 575], ticks: oxygenTicks, labels: oxygenLabels, exp: cExp, fit: cFit, comps: [cPi1, cPi2, cPi3, cSig1, cStep, cSig2], notes: cNotes, rightBorder: true },
  { letter: 'd', left: 73, right: 597, top: 482, axis: 849, domain: [270, 320], ticks: carbonTicks, labels: carbonLabels, exp: dExp, fit: dFit, comps: [dCC, dLow1, dLow2, dCO1, dCO2, dCO3, dStep, dSig], notes: dNotes, rightBorder: true },
  { letter: 'e', left: 625, right: 1147, top: 484, axis: 848, domain: [380, 440], ticks: nitrogenTicks, labels: nitrogenLabels, exp: eExp, fit: eFit, comps: [eNC, eStep, eNO2a, eNO2b, eNO2c, eSmall, eSig], notes: eNotes, rightBorder: true },
  { letter: 'f', left: 1176, right: 1708, top: 481, axis: 849, domain: [510, 574], ticks: oxygenTicks, labels: oxygenLabels, exp: fExp, fit: fFit, comps: [fPi1, fPi2, fSig1, fSig2, fStep, fSig3], notes: fNotes, rightBorder: false },
];

const pts = (a: Pt[]) => a.map(([x, y]) => ({ x, y }));

const AxisTick = (props: any) => {
  const { x, y, payload, labels } = props;
  const v = payload?.value;
  return (
    <g>
      <line x1={x} x2={x} y1={y - 3} y2={y + 3} stroke="#5a5a5a" strokeWidth={1} />
      {labels.includes(v) && (
        <text x={x} y={y + 16} textAnchor="middle" fontSize={9} fill="#3c3c3c">
          {v}
        </text>
      )}
    </g>
  );
};

const noteLabel = (n: Note) => (props: any) => {
  const vb = props.viewBox || {};
  const cx = (vb.x ?? 0) + (vb.width ?? 0) / 2;
  const cy = (vb.y ?? 0) + (vb.height ?? 0) / 2;
  const parts = n.text.split('₂');
  return (
    <text x={cx} y={cy + 4} textAnchor={n.anchor || 'middle'} fontSize={12} fill="#2a2a2a">
      {parts.map((p, i) => (
        <React.Fragment key={i}>
          {i > 0 && (
            <tspan fontSize={8} dy={3}>
              2
            </tspan>
          )}
          <tspan dy={i > 0 ? -3 : 0}>{p}</tspan>
        </React.Fragment>
      ))}
    </text>
  );
};

function Panel({ p }: { p: PanelDef }) {
  const w = p.right - p.left;
  const h = p.axis - p.top;
  return (
    <>
      <div style={{ position: 'absolute', left: p.left - ML, top: p.top - MT }}>
        <LineChart width={w + ML + MR} height={h + MT + XH} margin={{ top: MT, right: MR, left: ML, bottom: 0 }}>
          <XAxis
            dataKey="x"
            type="number"
            domain={p.domain}
            allowDataOverflow
            ticks={p.ticks}
            interval={0}
            tickLine={false}
            tickSize={0}
            tickMargin={0}
            height={XH}
            axisLine={{ stroke: '#5a5a5a' }}
            tick={(tp: any) => <AxisTick {...tp} labels={p.labels} />}
            label={{ value: 'Photon Energy (eV)', position: 'insideBottom', offset: 5, fontSize: 9, fontWeight: 'bold', fill: '#222' }}
          />
          <YAxis type="number" domain={[0, 100]} hide allowDataOverflow />
          <Line data={pts(p.exp)} dataKey="y" type="linear" stroke={EXP_COLOR} strokeWidth={1.4} dot={false} activeDot={false} isAnimationActive={false} />
          {p.comps.map((c, i) => (
            <Line key={i} data={pts(c)} dataKey="y" type="monotone" stroke={COMP_COLOR} strokeWidth={1.2} dot={false} activeDot={false} isAnimationActive={false} />
          ))}
          <Line data={pts(p.fit)} dataKey="y" type="monotone" stroke={FIT_COLOR} strokeWidth={1.6} dot={false} activeDot={false} isAnimationActive={false} />
          {p.notes.map((n, i) => (
            <ReferenceDot key={`n${i}`} x={n.x} y={n.y} r={0} fill="none" stroke="none" label={noteLabel(n)} />
          ))}
        </LineChart>
      </div>
      <div
        style={{
          position: 'absolute',
          left: p.left,
          top: p.top,
          width: w,
          height: h,
          boxSizing: 'border-box',
          borderTop: '1px solid #8a8a8a',
          borderLeft: '1px solid #8a8a8a',
          borderRight: p.rightBorder ? '1px solid #8a8a8a' : 'none',
          pointerEvents: 'none',
        }}
      />
      <div style={{ position: 'absolute', left: p.left + 20, top: p.top + 19, transform: 'translate(-50%,-50%)', fontSize: 17, fontWeight: 'bold', color: '#111' }}>
        {p.letter}
      </div>
    </>
  );
}

const centered = (x: number, y: number, extra: React.CSSProperties = {}): React.CSSProperties => ({
  position: 'absolute',
  left: x,
  top: y,
  transform: 'translate(-50%,-50%)',
  whiteSpace: 'nowrap',
  ...extra,
});

export default function App() {
  return (
    <div style={{ position: 'absolute', left: 0, top: 0, width: 1709, height: 891, overflow: 'hidden', background: '#fff', fontFamily: FONT }}>
      <div style={centered(330, 23, { fontSize: 24, fontWeight: 'bold', color: '#111' })}>Carbon 1s XANES</div>
      <div style={centered(911, 23, { fontSize: 24, fontWeight: 'bold', color: '#111' })}>Nitrogen 1s XANES</div>
      <div style={centered(1454, 23, { fontSize: 24, fontWeight: 'bold', color: '#111' })}>Oxygen 1s XANES</div>
      <div style={centered(26, 233, { fontSize: 23, fontWeight: 'bold', color: '#111', transform: 'translate(-50%,-50%) rotate(-90deg)' })}>R1-7</div>
      <div style={centered(27, 677, { fontSize: 23, fontWeight: 'bold', color: '#111', transform: 'translate(-50%,-50%) rotate(-90deg)' })}>R2-1</div>
      <div style={centered(69, 240, { fontSize: 8, fontWeight: 'bold', color: '#222', transform: 'translate(-50%,-50%) rotate(-90deg)' })}>Intensity</div>
      <div style={centered(59, 675, { fontSize: 8, fontWeight: 'bold', color: '#222', transform: 'translate(-50%,-50%) rotate(-90deg)' })}>Intensity</div>
      {panels.map((p) => (
        <Panel key={p.letter} p={p} />
      ))}
    </div>
  );
}
